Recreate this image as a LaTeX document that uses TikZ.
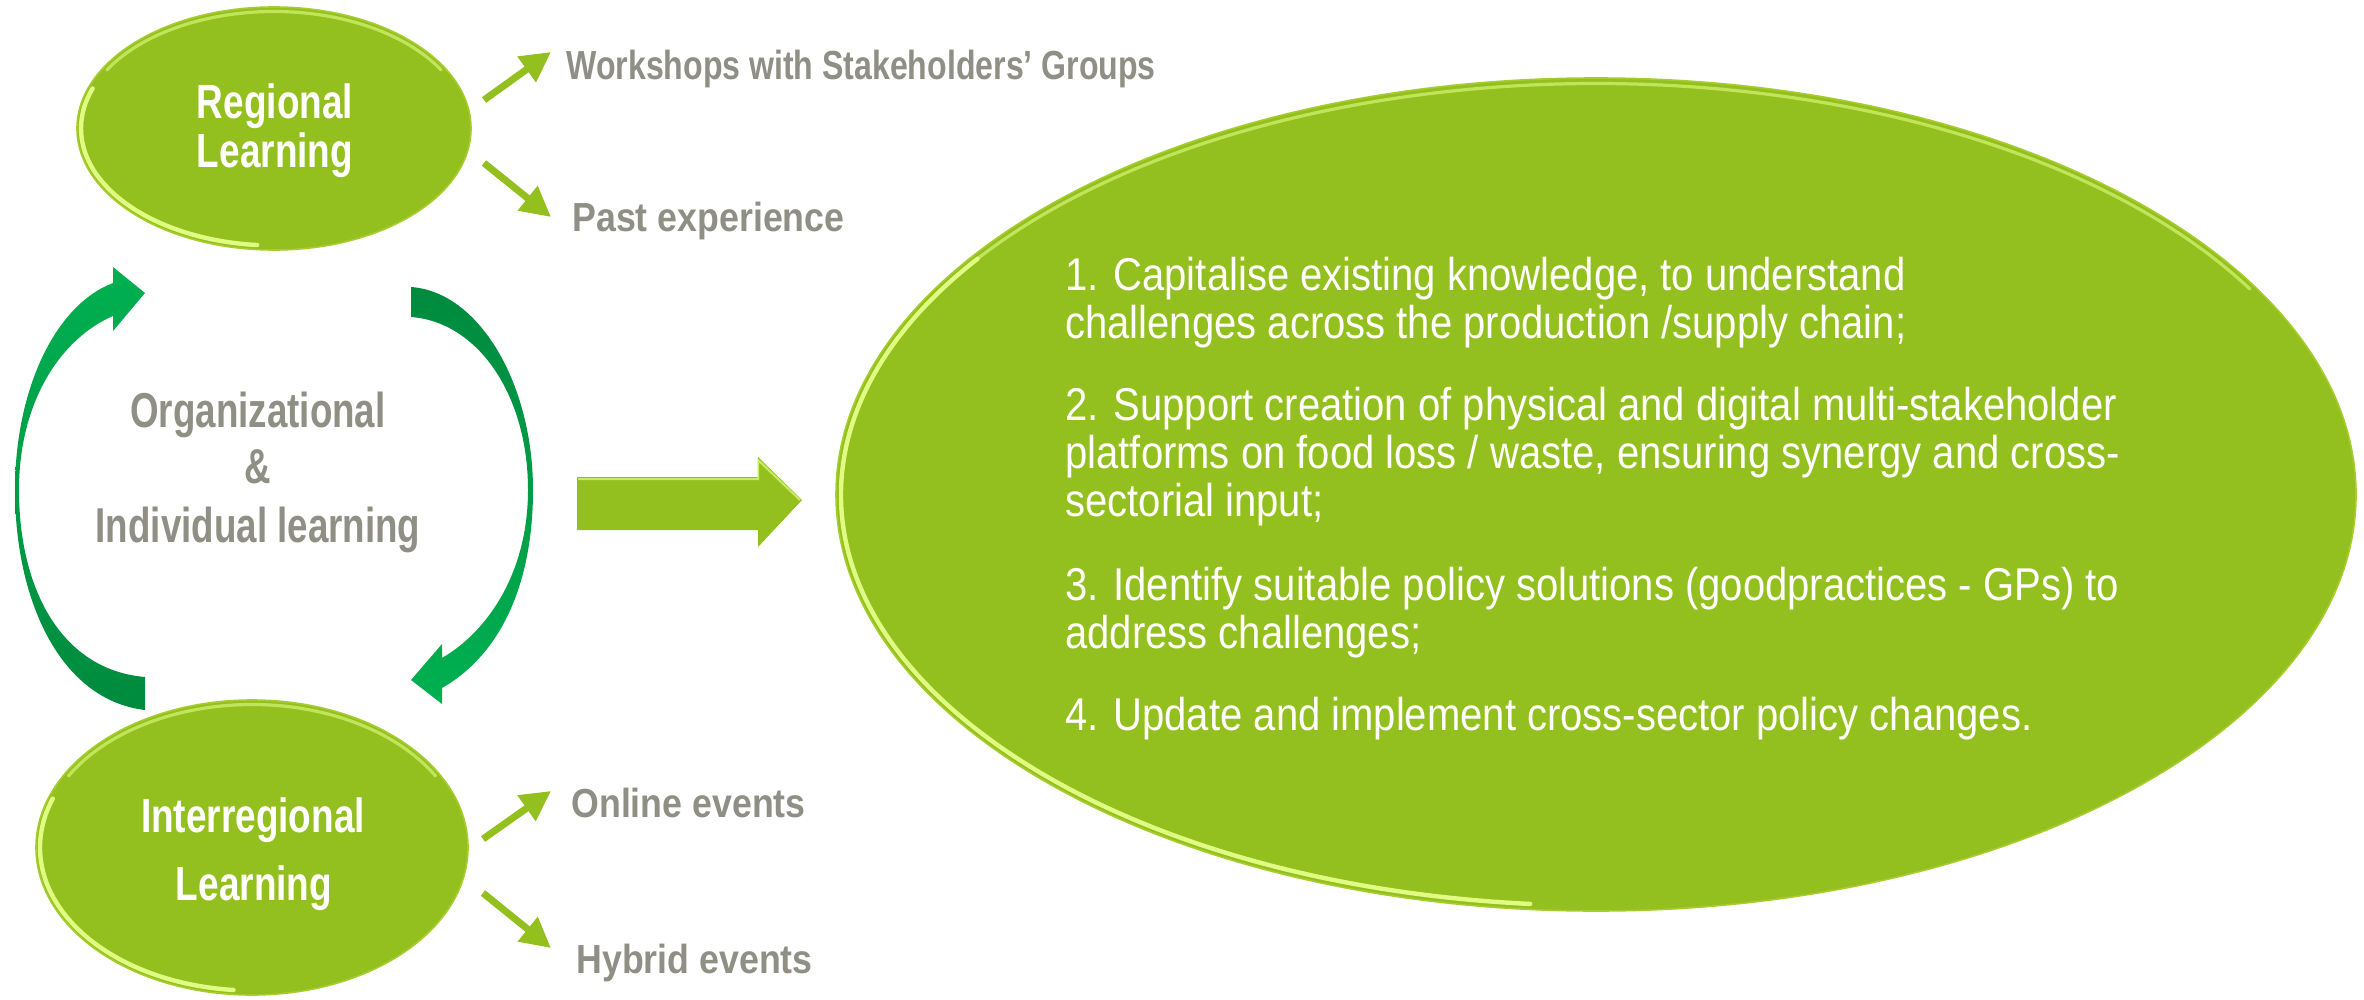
\documentclass[tikz,border=0pt]{standalone}
\usepackage{fontspec}
\setmainfont{Liberation Sans}
\newfontfamily\whitefont{Liberation Sans}[FakeStretch=0.77]
\newfontfamily\labelfont{Liberation Sans}[FakeStretch=0.88]
\newfontfamily\widelabelfont{Liberation Sans}[FakeStretch=0.79]
\newfontfamily\midfont{Liberation Sans}[FakeStretch=0.75]
\newfontfamily\bodyfont{Liberation Sans}[FakeStretch=0.87]
\usetikzlibrary{shapes.geometric,arrows.meta}
\definecolor{lime}{RGB}{148,192,31}
\definecolor{limerim}{RGB}{225,252,130}
\definecolor{limeedge}{RGB}{165,205,45}
\definecolor{txtgray}{RGB}{143,143,133}
\definecolor{brightgreen}{RGB}{0,176,80}
\definecolor{darkgreen}{RGB}{0,138,62}
\begin{document}
\begin{tikzpicture}[x=0.5pt,y=-0.5pt,
  blob/.style={ellipse, fill=lime, draw=limeedge, line width=0.8pt, inner sep=0pt},
  rim/.style={draw=limerim, line width=2.2pt, line cap=round},
  faintrim/.style={draw=limerim, line width=1.6pt, line cap=round, opacity=0.6},
  wtext/.style={text=white, font=\whitefont\bfseries\fontsize{24}{24}\selectfont, inner sep=0pt, anchor=base},
  glabel/.style={text=txtgray, font=\labelfont\bfseries\fontsize{20.3}{20.3}\selectfont, inner sep=0pt, anchor=base west},
  glabelw/.style={glabel, font=\widelabelfont\bfseries\fontsize{20.3}{20.3}\selectfont},
  midtext/.style={text=txtgray, font=\midfont\bfseries\fontsize{24.5}{24.5}\selectfont, inner sep=0pt, anchor=base},
  body/.style={text=white, font=\bodyfont\fontsize{23}{24}\selectfont, inner sep=0pt, anchor=base west},
  smallarrow/.style={draw=lime, line width=3.5pt, -{Triangle[length=15pt,width=15pt]}},
  curvearrow/.style={draw=none},
]
\useasboundingbox (0,0) rectangle (2364,1000);
\fill[white] (0,0) rectangle (2364,1000);

% big goal ellipse
\node[blob, minimum width=760pt, minimum height=416.5pt] (goal) at (1596,494.5) {};
\draw[rim] (goal.center) ++(95:755 and 411) arc[start angle=95, end angle=215, x radius=755, y radius=411];
\draw[faintrim] (goal.center) ++(215:755 and 411) arc[start angle=215, end angle=330, x radius=755, y radius=411];

% small learning ellipses
\node[blob, minimum width=197pt, minimum height=121.5pt] (reg) at (274,128.5) {};
\draw[rim] (reg.center) ++(95:193 and 117) arc[start angle=95, end angle=200, x radius=193, y radius=117];
\draw[faintrim] (reg.center) ++(210:193 and 117) arc[start angle=210, end angle=330, x radius=193, y radius=117];

\node[blob, minimum width=216pt, minimum height=147.5pt] (inter) at (252,847.5) {};
\draw[rim] (inter.center) ++(95:212 and 143) arc[start angle=95, end angle=200, x radius=212, y radius=143];
\draw[faintrim] (inter.center) ++(210:212 and 143) arc[start angle=210, end angle=330, x radius=212, y radius=143];

% texts in small ellipses
\node[wtext] (regT1) at (275,119) {Regional};
\node[wtext] (regT2) at (275,168) {Learning};
\node[wtext] (intT1) at (253,832) {Interregional};
\node[wtext] (intT2) at (254,900) {Learning};

% side labels
\node[glabelw] (ws) at (566,80) {Workshops with Stakeholders’ Groups};
\node[glabel] (past) at (572,232) {Past experience};
\node[glabel] (online) at (571,817) {Online events};
\node[glabel] (hybrid) at (576,973) {Hybrid events};

% small arrows
\coordinate (r1s) at (484,100);  \coordinate (r1e) at (551,52);
\coordinate (r2s) at (484,163);  \coordinate (r2e) at (551,217);
\coordinate (i1s) at (483,839);  \coordinate (i1e) at (551,791);
\coordinate (i2s) at (483,893);  \coordinate (i2e) at (551,948);
\draw[smallarrow] (r1s) -- (r1e);
\draw[smallarrow] (r2s) -- (r2e);
\draw[smallarrow] (i1s) -- (i1e);
\draw[smallarrow] (i2s) -- (i2e);

% middle text
\node[midtext] (org) at (258,427) {Organizational};
\node[midtext] (amp) at (258,483) {\&};
\node[midtext] (ind) at (258,542) {Individual learning};

% curved cycle arrows
\path[curvearrow, top color=brightgreen, bottom color=darkgreen]
  (145,710) .. controls (60,700) and (15,600) .. (15,490)
  .. controls (15,390) and (55,305) .. (113,283)
  -- (113,267) -- (145,293) -- (113,331) -- (113,316)
  .. controls (62,338) and (19,400) .. (19,490)
  .. controls (19,590) and (62,670) .. (145,677) -- cycle;
\path[curvearrow, top color=darkgreen, bottom color=brightgreen]
  (411,287) .. controls (480,292) and (533,385) .. (533,490)
  .. controls (533,585) and (500,655) .. (442,688)
  -- (442,704) -- (411,680) -- (442,644) -- (442,658)
  .. controls (490,630) and (528,570) .. (528,490)
  .. controls (528,395) and (478,322) .. (411,317) -- cycle;

% block arrow
\fill[lime] (577,477) -- (758,477) -- (758,457) -- (802,500) -- (758,547) -- (758,530) -- (577,530) -- cycle;
\draw[limerim, line width=1pt, opacity=0.7] (578,479) -- (758,479) -- (758,460) -- (800,500);

% goal text
\node[body] (l1) at (1065,290) {1. Capitalise existing knowledge, to understand};
\node[body] (l2) at (1065,338) {challenges across the production /supply chain;};
\node[body] (l3) at (1065,420) {2. Support creation of physical and digital multi-stakeholder};
\node[body] (l4) at (1065,468) {platforms on food loss / waste, ensuring synergy and cross-};
\node[body] (l5) at (1065,516) {sectorial input;};
\node[body] (l6) at (1065,600) {3. Identify suitable policy solutions (goodpractices - GPs) to};
\node[body] (l7) at (1065,648) {address challenges;};
\node[body] (l8) at (1065,730) {4. Update and implement cross-sector policy changes.};
\end{tikzpicture}
\end{document}
